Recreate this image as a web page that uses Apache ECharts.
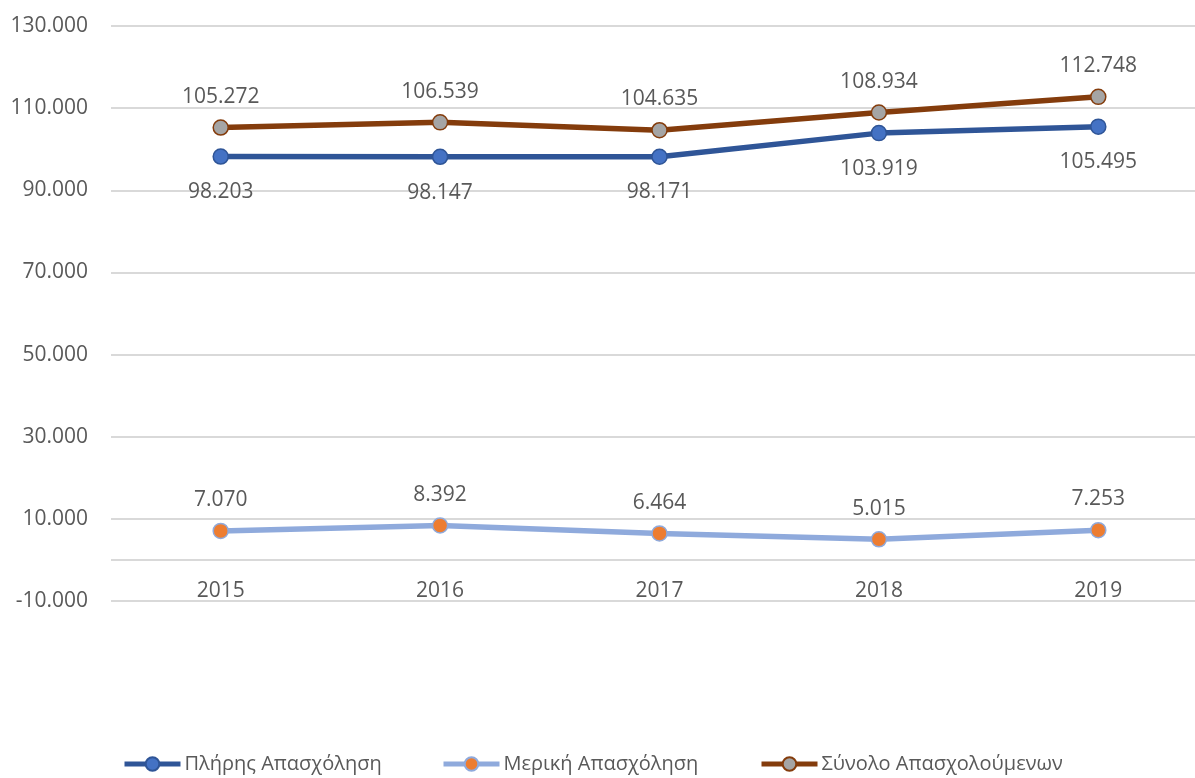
<!DOCTYPE html>
<html>
<head>
<meta charset="utf-8">
<title>Απασχόληση 2015-2019</title>
<script src="https://cdn.jsdelivr.net/npm/echarts@6/dist/echarts.min.js"></script>
<style>
body{margin:0;padding:0;background:#fff;}
#chartmain{width:1195px;height:778px;}
</style>
</head>
<body>
<div id="chartmain"></div>
<script type="text/javascript">
// data
var years = ['2015', '2016', '2017', '2018', '2019'];
var plires = [98203, 98147, 98171, 103919, 105495];
var meriki = [7070, 8392, 6464, 5015, 7253];
var synolo = [105272, 106539, 104635, 108934, 112748];
var names = ['Πλήρης Απασχόληση', 'Μερική Απασχόληση', 'Σύνολο Απασχολούμενων'];

// 1234567 -> 1.234.567
function fmt(v){
	var s = String(Math.abs(v)).replace(/\B(?=(\d{3})+(?!\d))/g, '.');
	return (v < 0 ? '-' : '') + s;
}
function lbl(p){ return fmt(p.value); }

var font = 'Open Sans';
var txt = '#595959';
var grid = '#d9d9d9';

// one legend per item, excel spreads them unevenly
function leg(i, x){
	return {
		data:[names[i]],
		left:x,
		top:754,
		padding:0,
		itemWidth:56,
		itemHeight:17,
		lineStyle:{width:5},
		textStyle:{color:txt, fontSize:20, fontFamily:font, padding:[0,0,0,-1]}
	};
}

var myChart = echarts.init(document.getElementById('chartmain'));
myChart.setOption({
	animation:false,
	textStyle:{fontFamily:font},
	grid:{left:111, top:26, width:1097, height:575, outerBoundsMode:'none', containLabel:false},
	legend:[leg(0, 122), leg(1, 441), leg(2, 759)],
	xAxis:{
		type:'category',
		data:years,
		axisLine:{show:false, onZero:false},
		axisTick:{show:false},
		axisLabel:{color:txt, fontSize:21, margin:-20}
	},
	yAxis:{
		type:'value',
		min:-10000,
		max:130000,
		interval:20000,
		axisLine:{show:false},
		axisTick:{show:false},
		splitLine:{lineStyle:{color:grid, width:2}},
		axisLabel:{color:txt, fontSize:21, margin:23, formatter:fmt}
	},
	series:[
		{
			name:names[0],
			type:'line',
			data:plires,
			symbol:'circle',
			symbolSize:15,
			z:3,
			lineStyle:{color:'#2f5597', width:5.5},
			itemStyle:{color:'#4472c4', borderColor:'#2f5597', borderWidth:1.5},
			label:{show:true, position:'bottom', distance:17, color:txt, fontSize:21, formatter:lbl}
		},
		{
			name:names[1],
			type:'line',
			data:meriki,
			symbol:'circle',
			symbolSize:15,
			z:3,
			lineStyle:{color:'#8faadc', width:5.5},
			itemStyle:{color:'#ed7d31', borderColor:'#8faadc', borderWidth:1.5},
			label:{show:true, position:'top', distance:12, color:txt, fontSize:21, formatter:lbl},
			// the zero line, the horizontal axis in the original
			markLine:{
				silent:true,
				symbol:'none',
				label:{show:false},
				lineStyle:{color:grid, width:2, type:'solid'},
				data:[{yAxis:0}],
				z:1
			}
		},
		{
			name:names[2],
			type:'line',
			data:synolo,
			symbol:'circle',
			symbolSize:15,
			z:3,
			lineStyle:{color:'#843c0c', width:5.5},
			itemStyle:{color:'#a5a5a5', borderColor:'#843c0c', borderWidth:1.5},
			label:{show:true, position:'top', distance:12, color:txt, fontSize:21, formatter:lbl}
		}
	]
});
</script>
</body>
</html>
